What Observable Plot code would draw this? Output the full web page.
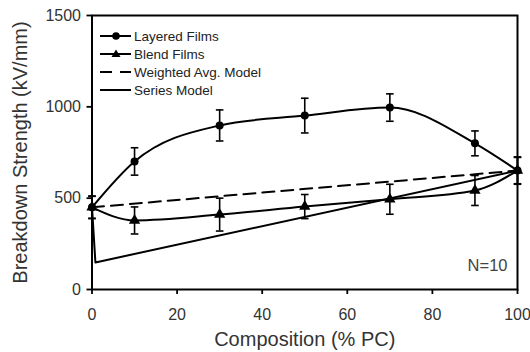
<!DOCTYPE html>
<html>
<head>
<meta charset="utf-8">
<script src="https://cdn.jsdelivr.net/npm/d3@7"></script>
<script src="https://cdn.jsdelivr.net/npm/@observablehq/plot@0.6"></script>
<style>
  html, body { margin: 0; padding: 0; background: #fff; }
  #wrap { position: relative; width: 530px; height: 352px; font-family: "Liberation Sans", Arial, sans-serif; }
  #wrap svg.plot { position: absolute; left: 0; top: 0; }
  .leg { position: absolute; left: 99px; height: 18px; display: flex; align-items: center; font-size: 13.5px; color: #222; white-space: nowrap; }
  .leg svg { margin-right: 2px; }
</style>
</head>
<body>
<div id="wrap"></div>
<script>
// ---- data ----
const composition = [0, 10, 30, 50, 70, 90, 100];
const layeredValues = [450, 701, 898, 952, 996, 800, 651];
const layeredErrors = [60, 75, 85, 95, 75, 68, 72];
const blendValues = [450, 378, 410, 454, 494, 542, 651];
const blendErrors = [62, 74, 90, 66, 82, 82, 75];
const weightedX = [0, 100];
const weightedY = [450, 651];
const seriesX = [0, 0.8, 100];
const seriesY = [450, 148, 651];
const xTicks = [0, 20, 40, 60, 80, 100];
const yTicks = [0, 500, 1000, 1500];
const legendLabels = ["Layered Films", "Blend Films", "Weighted Avg. Model", "Series Model"];

const layered = composition.map((x, i) => ({x, y: layeredValues[i], e: layeredErrors[i]}));
const blend = composition.map((x, i) => ({x, y: blendValues[i], e: blendErrors[i]}));
const weighted = weightedX.map((x, i) => ({x, y: weightedY[i]}));
const series = seriesX.map((x, i) => ({x, y: seriesY[i]}));

const cap = {draw(ctx, size) { const w = Math.sqrt(size / Math.PI); ctx.moveTo(-w, 0); ctx.lineTo(w, 0); }};

function errorMarks(data) {
  return [
    Plot.ruleX(data, {x: "x", y1: d => d.y - d.e, y2: d => d.y + d.e, stroke: "#000", strokeWidth: 1.6}),
    Plot.dot(data, {x: "x", y: d => d.y - d.e, symbol: cap, r: 3.8, stroke: "#000", strokeWidth: 1.6}),
    Plot.dot(data, {x: "x", y: d => d.y + d.e, symbol: cap, r: 3.8, stroke: "#000", strokeWidth: 1.6})
  ];
}

const chart = Plot.plot({
  width: 530,
  height: 352,
  marginLeft: 91.5,
  marginRight: 13,
  marginTop: 15,
  marginBottom: 63,
  style: {fontFamily: "Liberation Sans, Arial, sans-serif", background: "#fff"},
  x: {domain: [0, 100]},
  y: {domain: [0, 1500]},
  marks: [
    Plot.frame({stroke: "#000", strokeWidth: 2}),
    Plot.axisX({ticks: xTicks, tickSize: 5, tickPadding: 14, fontSize: 16, stroke: "#000", strokeWidth: 1.8, color: "#333", label: null}),
    Plot.axisY({ticks: yTicks, tickSize: 5, tickPadding: 6, fontSize: 16, stroke: "#000", strokeWidth: 1.8, color: "#333", label: null, tickFormat: d => String(d)}),
    Plot.text(["Composition (% PC)"], {frameAnchor: "bottom", dy: 56, fontSize: 20, fill: "#333"}),
    Plot.text(["Breakdown Strength (kV/mm)"], {frameAnchor: "left", textAnchor: "middle", dx: -71, rotate: -90, fontSize: 20, fill: "#333"}),
    Plot.text(["N=10"], {frameAnchor: "bottom-right", dx: -10, dy: -19, fontSize: 16.5, fill: "#444", textAnchor: "end"}),
    Plot.line(weighted, {x: "x", y: "y", stroke: "#000", strokeWidth: 2, strokeDasharray: "12,7"}),
    Plot.line(series, {x: "x", y: "y", stroke: "#000", strokeWidth: 2}),
    Plot.line(layered, {x: "x", y: "y", curve: "monotone-x", stroke: "#000", strokeWidth: 2}),
    Plot.line(blend, {x: "x", y: "y", curve: "monotone-x", stroke: "#000", strokeWidth: 2}),
    ...errorMarks(layered),
    ...errorMarks(blend),
    Plot.dot(layered, {x: "x", y: "y", r: 4, fill: "#000"}),
    Plot.dot(blend, {x: "x", y: "y", symbol: "triangle", r: 4.2, fill: "#000"})
  ]
});
chart.classList.add("plot");
const wrap = document.getElementById("wrap");
wrap.appendChild(chart);

// legend (inside the plot frame, top-left)
const legendTops = [27, 45, 63, 81];
const samples = [
  `<line x1="1" y1="9" x2="32" y2="9" stroke="#000" stroke-width="2"/><circle cx="17" cy="9" r="3.8" fill="#000"/>`,
  `<line x1="1" y1="9" x2="32" y2="9" stroke="#000" stroke-width="2"/><path d="M17,4.5 L21.5,12 L12.5,12 Z" fill="#000"/>`,
  `<line x1="1" y1="9" x2="32" y2="9" stroke="#000" stroke-width="2" stroke-dasharray="12,8"/>`,
  `<line x1="1" y1="9" x2="32" y2="9" stroke="#000" stroke-width="2"/>`
];
legendLabels.forEach((label, i) => {
  const row = document.createElement("div");
  row.className = "leg";
  row.style.top = legendTops[i] + "px";
  row.innerHTML = `<svg width="33" height="18">${samples[i]}</svg><span>${label}</span>`;
  wrap.appendChild(row);
});
</script>
</body>
</html>
